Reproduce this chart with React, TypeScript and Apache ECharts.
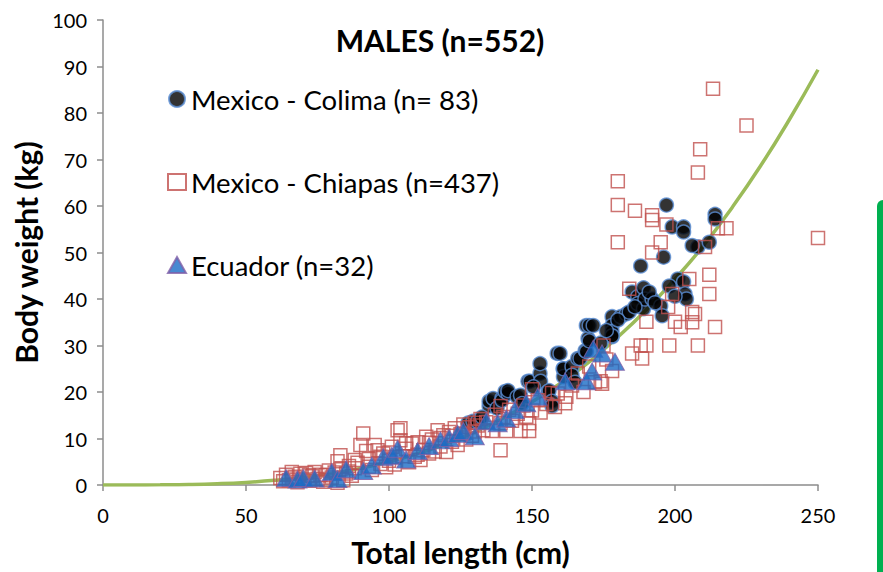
import React, { useEffect, useRef } from "react";
import * as echarts from "echarts";

const FONT = "Lato, 'Open Sans', sans-serif";

const xTicks = [0, 50, 100, 150, 200, 250];
const yTicks = [0, 10, 20, 30, 40, 50, 60, 70, 80, 90, 100];

// Fitted weight-length curve (cm, kg)
const curveX = [0, 10, 20, 30, 40, 50, 60, 70, 80, 90, 100, 110, 120, 130, 140, 150, 160, 170, 180, 190, 200, 210, 220, 230, 240, 250];
const curveY = [0, 0.004, 0.03, 0.1, 0.27, 0.56, 1.0, 1.62, 2.47, 3.58, 4.98, 6.74, 8.87, 11.4, 14.4, 17.9, 21.9, 26.5, 31.8, 37.7, 44.3, 51.5, 59.7, 68.7, 78.6, 89.3];

// Mexico - Colima
const colima: number[][] = [
  [127.6, 13.3], [129.4, 13.7], [131, 13.7], [135, 17], [135, 18], [136.4, 18.6], [137.8, 16.5],
  [139.5, 18.6], [139.5, 18.2], [140.6, 20.1], [141.6, 19.7], [141.6, 20.3], [144.8, 19], [146, 19.3],
  [148.6, 22.3], [149.3, 22.3], [152.8, 24], [152.8, 26.1], [153, 22.3], [155.6, 20.1], [156, 20.3],
  [157, 18], [157, 17], [158.8, 28.3], [159.8, 28.3], [160.9, 25], [161, 23.3], [161, 25],
  [164, 25.5], [164, 23.6], [166, 27.2], [166.8, 27.2], [168.6, 28.9], [169, 28.7], [169, 34.3],
  [169.6, 31.5], [170, 34.3], [170, 31], [171.4, 34.3], [178, 36.2], [178, 34.3], [178, 33],
  [178, 31.9], [178, 32.1], [181, 36.2], [183, 36.8], [184, 37.2], [185, 41.5], [187, 40.5],
  [187, 39], [188, 47.1], [189, 42.4], [189, 37.9], [189.5, 40], [192, 40], [195, 38.5],
  [195.5, 36.4], [196, 49], [197, 60.2], [199, 55.5], [201, 44.3], [203, 43.7], [203, 55.5],
  [203, 54.4], [203.5, 41.1], [204, 40], [208, 51.2], [212, 52.2], [214, 58.2], [214, 57.2],
  [165, 22.1], [150.5, 21.1], [146.5, 17.5], [132.5, 14.6], [174, 30.5], [180, 35.5], [191, 41.5],
  [198, 42.8], [200, 40.6], [206, 51.5], [193, 39.2], [186, 38.3], [176, 33.2]
];

// Mexico - Chiapas
const chiapas: number[][] = [
  [62, 1.5], [63, 0.8], [64, 2.2], [65, 1], [66, 2.8], [67, 1.8], [68, 0.6], [69, 2.4], [70, 1.2],
  [71, 2.6], [72, 0.9], [73, 1.9], [74, 2.8], [75, 1.3], [76, 2.2], [77, 0.7], [78, 2.1], [79, 3.1],
  [80, 1.6], [81, 2.7], [82, 0.5], [83, 3.4], [84, 1], [83, 6.4], [82, 5.1], [85, 2.5], [86, 4.1],
  [87, 2], [88, 3.6], [89, 4.8], [90, 8.6], [91, 11.1], [92, 7.3], [93, 5.6], [94, 3.2], [95, 8.6],
  [96, 7.5], [97, 4.5], [98, 6.8], [99, 3.8], [100, 5.2], [101, 8.2], [102, 4.4], [103, 11.8],
  [104, 12.2], [104, 9.6], [105, 6.2], [106, 7.8], [107, 4.9], [108, 8.9], [109, 6.1], [110, 9.2],
  [111, 5.4], [112, 7.5], [113, 10.4], [114, 6.8], [115, 9.8], [116, 7.2], [117, 11.8], [118, 8.3],
  [119, 10.7], [120, 7.1], [121, 11.4], [122, 9.3], [123, 12.2], [124, 8.6], [125, 10.9], [126, 13],
  [127, 9.8], [128, 12.4], [129, 10.6], [130, 11.5], [131, 12.8], [132, 14.2], [133, 11.8], [134, 13.5],
  [136, 11.6], [137, 15.1], [139, 13.3], [139, 17], [139, 7.5], [140, 14.6], [141, 11.6], [142, 16.2],
  [143, 13.8], [145, 15.3], [146, 11.6], [147, 17.1], [148, 14.7], [149, 13.3], [149, 11.6], [150, 20.6],
  [150, 16], [152, 18.2], [153, 15.6], [155, 17.4], [157, 19.8], [158, 16.8], [159, 19.7], [161.6, 17.6],
  [162, 19], [164, 21.4], [166, 24], [168, 20], [170, 25.5], [172, 22.1], [174, 22.3], [174.5, 21.8],
  [175, 30], [176, 27], [178, 24.5], [180, 65.3], [180, 60.2], [180, 52.2], [184, 42.2], [185, 28.3],
  [186, 59], [188, 30], [188.5, 27.2], [190, 30], [190, 35.1], [192, 58], [192, 57], [192, 50],
  [195, 52.2], [197, 56], [197.6, 38.3], [198, 30], [199, 41.1], [200, 35.1], [202, 34], [205, 44.3],
  [206, 37.2], [206, 35], [207, 36.8], [208, 67.2], [208, 30], [208.8, 72.2], [210.5, 51.2], [212, 45.2],
  [212, 41.1], [213.3, 85.2], [214, 34], [215, 55.2], [218, 55.2], [225, 77.3], [250, 53.1],
  [66, 1.4], [72, 2.1], [78, 1.1], [86, 2.9], [88, 5.4], [93, 3.9], [97, 6.1], [100, 7.0],
  [102, 6.0], [106, 9.0], [110, 6.5], [114, 9.1], [118, 10.1], [122, 10.6], [126, 11.1], [130, 13.4]
];

// Ecuador
const ecuador: number[][] = [
  [64, 1.5], [68, 1.2], [70, 1.5], [74, 1.4], [80, 2.8], [82, 1.3], [85, 3.4], [91, 3], [94, 4.2],
  [98, 6], [101, 6.3], [103, 7.8], [106, 5.5], [110, 7.3], [114, 8.4], [118, 9.6], [121, 10.1],
  [124, 11], [126, 11.6], [130, 10.5], [134, 13.7], [138, 13.3], [141, 14.3], [144, 16.1], [148, 17.6],
  [152, 19], [161.6, 22.3], [169, 22.3], [171, 24.4], [171.4, 29.3], [174.5, 28.3], [179, 26.5]
];

export default function App() {
  const ref = useRef<HTMLDivElement>(null);

  useEffect(() => {
    if (!ref.current) return;
    const chart = echarts.init(ref.current, null, { renderer: "svg" });
    const curve = curveX.map((x, i) => [x, curveY[i]]);
    chart.setOption({
      animation: false,
      backgroundColor: "#ffffff",
      textStyle: { fontFamily: FONT },
      title: {
        text: "MALES (n=552)",
        left: 435,
        top: 20,
        textAlign: "center",
        textStyle: { fontFamily: FONT, fontSize: 30, fontWeight: "bold", color: "#000" },
      },
      legend: {
        orient: "vertical",
        left: 167,
        top: 85,
        padding: 0,
        itemGap: 55,
        itemWidth: 18,
        itemHeight: 16,
        itemTextGap: 6,
        textStyle: { fontFamily: FONT, fontSize: 27.5, color: "#000" },
        data: ["Mexico - Colima (n= 83)", "Mexico - Chiapas (n=437)", "Ecuador (n=32)"],
      },
      grid: { left: 103, right: 65, top: 20, bottom: 85, containLabel: false },
      xAxis: {
        type: "value",
        min: xTicks[0],
        max: xTicks[xTicks.length - 1],
        interval: 50,
        name: "Total length (cm)",
        nameLocation: "middle",
        nameGap: 52,
        nameTextStyle: { fontFamily: FONT, fontSize: 30, fontWeight: "bold", color: "#000" },
        axisLine: { lineStyle: { color: "#8c8c8c", width: 1.5 } },
        axisTick: { show: true, length: 6, inside: false, lineStyle: { color: "#8c8c8c", width: 1.5 } },
        axisLabel: { fontFamily: FONT, fontSize: 20, color: "#000", margin: 20 },
        splitLine: { show: false },
      },
      yAxis: {
        type: "value",
        min: yTicks[0],
        max: yTicks[yTicks.length - 1],
        interval: 10,
        name: "Body weight (kg)",
        nameLocation: "middle",
        nameGap: 60,
        nameTextStyle: { fontFamily: FONT, fontSize: 30, fontWeight: "bold", color: "#000" },
        axisLine: { show: true, lineStyle: { color: "#8c8c8c", width: 1.5 } },
        axisTick: { show: true, length: 6, lineStyle: { color: "#8c8c8c", width: 1.5 } },
        axisLabel: { fontFamily: FONT, fontSize: 20, color: "#000", margin: 16 },
        splitLine: { show: false },
      },
      series: [
        {
          name: "fit",
          type: "line",
          data: curve,
          smooth: true,
          showSymbol: false,
          lineStyle: { color: "#9BBB59", width: 3.5 },
          z: 1,
        },
        {
          name: "Mexico - Colima (n= 83)",
          type: "scatter",
          data: colima,
          symbol: "circle",
          symbolSize: 14,
          itemStyle: { color: "#000000", borderColor: "#5b8fd4", borderWidth: 1.5 },
          z: 2,
        },
        {
          name: "Mexico - Chiapas (n=437)",
          type: "scatter",
          data: chiapas,
          symbol: "rect",
          symbolSize: 13,
          itemStyle: { color: "rgba(255,255,255,0)", borderColor: "#C0504D", borderWidth: 1.5 },
          z: 3,
        },
        {
          name: "Ecuador (n=32)",
          type: "scatter",
          data: ecuador,
          symbol: "triangle",
          symbolSize: [19, 17],
          itemStyle: { color: "#1A6CC6", borderColor: "#7F5FA8", borderWidth: 1 },
          z: 4,
        },
      ],
      graphic: [
        {
          type: "rect",
          shape: { x: 877, y: 200, width: 20, height: 400, r: 6 },
          style: { fill: "#00B050" },
          z: 10,
        },
      ],
    });
    return () => chart.dispose();
  }, []);

  return (
    <div
      ref={ref}
      style={{ position: "fixed", left: 0, top: 0, width: 883, height: 572, background: "#fff" }}
    />
  );
}
